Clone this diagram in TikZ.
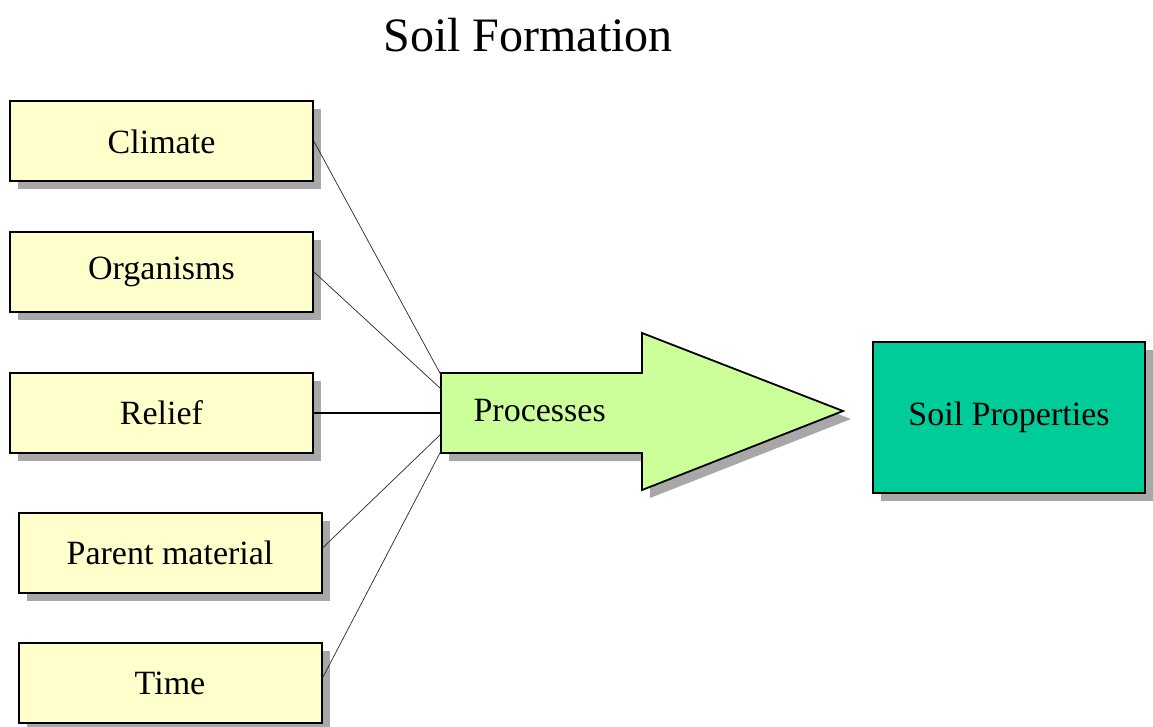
\documentclass[tikz,border=0pt]{standalone}
\usepackage{fontspec}
\setmainfont{Liberation Serif}
\usetikzlibrary{shadows}
\definecolor{boxyellow}{HTML}{FFFFCC}
\definecolor{procgreen}{HTML}{CCFF99}
\definecolor{soilgreen}{HTML}{00CC99}
\definecolor{shade}{HTML}{A8A8A8}
\begin{document}
\begin{tikzpicture}[x=1pt,y=-1pt,
  sh/.style={drop shadow={shadow xshift=8pt,shadow yshift=-8pt,fill=shade,opacity=1}},
  lbl/.style={font=\fontsize{34}{40}\selectfont},
  factor/.style={draw=black,line width=2pt,fill=boxyellow,minimum width=303pt,minimum height=80pt,inner sep=0pt,sh,lbl},
  result/.style={draw=black,line width=2pt,fill=soilgreen,minimum width=272pt,minimum height=151pt,inner sep=0pt,sh,lbl},
  link/.style={draw=black!85,line width=0.7pt},
  mainlink/.style={draw=black,line width=1.3pt},
]
\useasboundingbox (0,0) rectangle (1153,727);
\node[font=\fontsize{48}{54}\selectfont] (title) at (528,35) {Soil Formation};

\node[factor] (climate) at (161.5,141.5) {Climate};
\node[factor] (organisms) at (161.5,272) {Organisms};
\node[factor] (relief) at (161.5,413) {Relief};
\node[factor] (parent) at (170,553) {Parent material};
\node[factor] (time) at (170,683) {Time};

\path[draw=black,line width=1.8pt,fill=procgreen,sh]
  (441,373) -- (642,373) -- (642,333) -- (843,411) -- (642,490) -- (642,453) -- (441,453) -- cycle;
\node[lbl,anchor=west] (proc) at (470,411) {Processes};
\coordinate (p1) at (441,375);
\coordinate (p2) at (441,389);
\coordinate (p3) at (441,413);
\coordinate (p4) at (441,434);
\coordinate (p5) at (441,451);

\node[result] (soil) at (1009,417.5) {Soil Properties};

\draw[link] (climate.east) -- (p1);
\draw[link] (organisms.east) -- (p2);
\draw[mainlink] (relief.east) -- (p3);
\draw[link] ([yshift=5pt]parent.east) -- (p4);
\draw[link] ([yshift=5pt]time.east) -- (p5);
\end{tikzpicture}
\end{document}
